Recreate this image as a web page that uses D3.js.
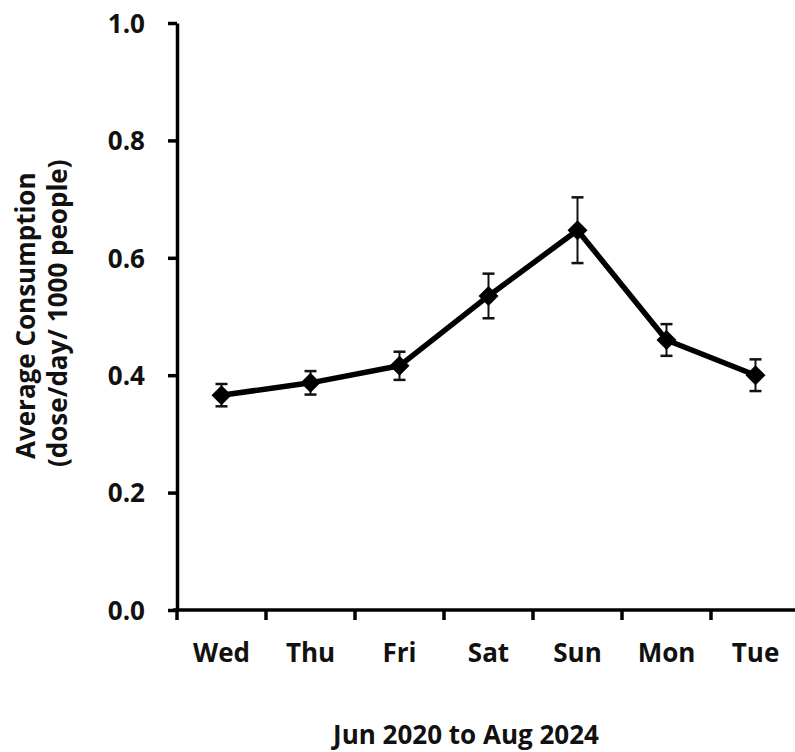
<!DOCTYPE html>
<html>
<head>
<meta charset="utf-8">
<script src="https://cdn.jsdelivr.net/npm/d3@7"></script>
<style>
  html, body { margin: 0; padding: 0; background: #fff; }
  svg { display: block; }
  text { font-family: "Open Sans", Lato, sans-serif; font-weight: bold; fill: #111; }
</style>
</head>
<body>
<svg id="chart" width="795" height="752"></svg>
<script>
// Average daily consumption by weekday, Jun 2020 to Aug 2024
const days = ["Wed", "Thu", "Fri", "Sat", "Sun", "Mon", "Tue"];
const meanValues = [0.366, 0.387, 0.416, 0.535, 0.647, 0.460, 0.400];
const errorValues = [0.019, 0.020, 0.024, 0.038, 0.056, 0.027, 0.027];
const yTicks = [0.0, 0.2, 0.4, 0.6, 0.8, 1.0];

const svg = d3.select("#chart");
const plot = { left: 177, right: 800, top: 23, bottom: 610 };
const fontSize = "26px";

const x = d3.scaleBand().domain(days).range([plot.left, plot.right]).padding(0);
const y = d3.scaleLinear().domain([0, 1]).range([plot.bottom, plot.top]);

const data = days.map((d, i) => ({ day: d, v: meanValues[i], e: errorValues[i] }));

// y axis
const yAxis = svg.append("g").attr("transform", `translate(${plot.left},0)`)
  .call(d3.axisLeft(y).tickValues(yTicks).tickFormat(d3.format(".1f")).tickSize(9).tickSizeOuter(0));
yAxis.select(".domain").attr("stroke", "#000").attr("stroke-width", 3.5);
yAxis.selectAll(".tick line").attr("stroke", "#000").attr("stroke-width", 3.5);
yAxis.selectAll(".tick text").attr("x", -32).attr("dy", "0.36em")
  .style("font-size", fontSize).style("font-family", "'Open Sans', sans-serif").style("font-weight", "bold").attr("fill", "#111");

// x axis: ticks on band edges, labels on band centres
const xAxis = svg.append("g").attr("transform", `translate(0,${plot.bottom})`);
xAxis.append("line").attr("x1", plot.left - 4).attr("x2", plot.right).attr("y1", 0).attr("y2", 0)
  .attr("stroke", "#000").attr("stroke-width", 3.5);
const edges = days.map(d => x(d)).concat([plot.right]);
xAxis.selectAll("line.edge").data(edges).join("line").attr("class", "edge")
  .attr("x1", d => d).attr("x2", d => d).attr("y1", 0).attr("y2", 10)
  .attr("stroke", "#000").attr("stroke-width", 3.5);
xAxis.selectAll("text").data(days).join("text")
  .attr("x", d => x(d) + x.bandwidth() / 2).attr("y", 52)
  .attr("text-anchor", "middle").style("font-size", fontSize).text(d => d);

// axis titles
svg.append("text").attr("x", 466).attr("y", 744).attr("text-anchor", "middle")
  .style("font-size", fontSize).text("Jun 2020 to Aug 2024");
const yt = svg.append("g").attr("transform", "translate(0,467) rotate(-90)");
yt.append("text").attr("x", 8).attr("y", 35).style("font-size", fontSize).text("Average Consumption");
yt.append("text").attr("x", 0).attr("y", 67).style("font-size", fontSize).text("(dose/day/ 1000 people)");

const cx = d => x(d.day) + x.bandwidth() / 2;

// error bars
const eb = svg.append("g");
eb.selectAll("line.v").data(data).join("line").attr("class", "v")
  .attr("x1", cx).attr("x2", cx).attr("y1", d => y(d.v + d.e)).attr("y2", d => y(d.v - d.e))
  .attr("stroke", "#111").attr("stroke-width", 2);
[["ct", 1], ["cb", -1]].forEach(([cls, s]) => {
  eb.selectAll("line." + cls).data(data).join("line").attr("class", cls)
    .attr("x1", d => cx(d) - 6).attr("x2", d => cx(d) + 6)
    .attr("y1", d => y(d.v + s * d.e)).attr("y2", d => y(d.v + s * d.e))
    .attr("stroke", "#111").attr("stroke-width", 2.5);
});

// mean line
svg.append("path").datum(data)
  .attr("d", d3.line().x(cx).y(d => y(d.v)))
  .attr("fill", "none").attr("stroke", "#000").attr("stroke-width", 5.5).attr("stroke-linejoin", "round");

// diamond markers
svg.append("g").selectAll("path").data(data).join("path")
  .attr("transform", d => `translate(${cx(d)},${y(d.v)})`)
  .attr("d", "M0,-10L10,0L0,10L-10,0Z").attr("fill", "#000");
</script>
</body>
</html>
